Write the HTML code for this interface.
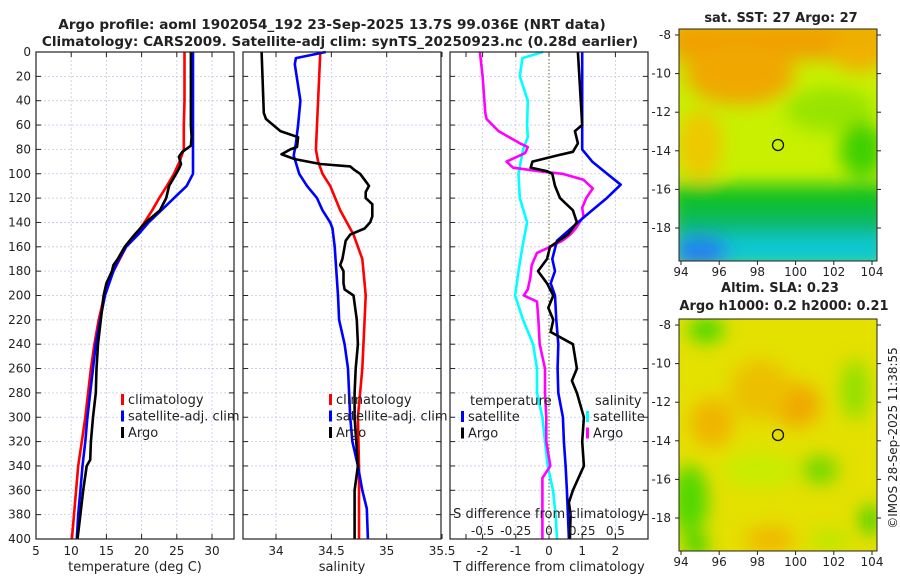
<!DOCTYPE html>
<html><head><meta charset="utf-8"><style>
body{margin:0;background:#fff;width:900px;height:580px;overflow:hidden}
svg text{font-family:"DejaVu Sans","Liberation Sans",sans-serif;fill:#222}
</style></head><body>
<svg id="fig" width="900" height="580" xmlns="http://www.w3.org/2000/svg">
<defs>
<filter id="blur8" x="-50%" y="-50%" width="200%" height="200%"><feGaussianBlur stdDeviation="9"/></filter>
<clipPath id="clip1"><rect x="679" y="29" width="198" height="232"/></clipPath>
<clipPath id="clip2"><rect x="679" y="319" width="198" height="232"/></clipPath>
</defs>
<text x="332" y="29" font-size="13.6" font-weight="bold" text-anchor="middle">Argo profile: aoml 1902054_192 23-Sep-2025 13.7S 99.036E (NRT data)</text>
<text x="340" y="46" font-size="13.6" font-weight="bold" text-anchor="middle">Climatology: CARS2009. Satellite-adj clim: synTS_20250923.nc (0.28d earlier)</text>
<g id="p1"></g>
<g id="p2"></g>
<g id="p3"></g>

<g>
<text x="781" y="22" font-size="13" font-weight="bold" text-anchor="middle">sat. SST: 27 Argo: 27</text>
<g clip-path="url(#clip1)">
<rect x="679" y="29" width="198" height="232" fill="#c8f000"/>
<g filter="url(#blur8)">
<rect x="670" y="20" width="220" height="40" fill="#f0a000"/>
<ellipse cx="740" cy="75" rx="55" ry="30" fill="#f0a800"/>
<ellipse cx="860" cy="50" rx="30" ry="22" fill="#f0b000"/>
<ellipse cx="700" cy="145" rx="22" ry="35" fill="#eec800"/>
<ellipse cx="830" cy="110" rx="45" ry="22" fill="#98e400"/>
<ellipse cx="862" cy="150" rx="22" ry="28" fill="#40d000"/>
<rect x="670" y="185" width="220" height="30" fill="#10c020"/>
<rect x="670" y="212" width="220" height="25" fill="#10b860"/>
<rect x="670" y="234" width="220" height="35" fill="#10c8d0"/>
<ellipse cx="700" cy="252" rx="28" ry="16" fill="#2080f0"/>
</g>
</g>
<rect x="679" y="29" width="198" height="232" fill="none" stroke="#222"/>
<circle cx="778" cy="145" r="5.5" fill="none" stroke="#111" stroke-width="1.3"/>
</g>

<g>
<text x="780" y="292" font-size="13" font-weight="bold" text-anchor="middle">Altim. SLA: 0.23</text>
<text x="784" y="310" font-size="13" font-weight="bold" text-anchor="middle">Argo h1000: 0.2 h2000: 0.21</text>
<g clip-path="url(#clip2)">
<rect x="679" y="319" width="198" height="232" fill="#e4e000"/>
<g filter="url(#blur8)">
<ellipse cx="706" cy="330" rx="18" ry="12" fill="#40d800"/>
<ellipse cx="797" cy="405" rx="24" ry="22" fill="#f0a800"/>
<ellipse cx="712" cy="423" rx="22" ry="24" fill="#f0b400"/>
<ellipse cx="760" cy="390" rx="30" ry="30" fill="#ecc000"/>
<ellipse cx="690" cy="500" rx="18" ry="35" fill="#50d800"/>
<ellipse cx="696" cy="545" rx="12" ry="10" fill="#20d000"/>
<ellipse cx="820" cy="470" rx="18" ry="14" fill="#70d800"/>
<ellipse cx="855" cy="390" rx="14" ry="30" fill="#90e000"/>
<ellipse cx="870" cy="520" rx="10" ry="15" fill="#40d000"/>
<ellipse cx="770" cy="540" rx="25" ry="14" fill="#f0b800"/>
<ellipse cx="760" cy="470" rx="40" ry="18" fill="#c8ec00"/>
<ellipse cx="830" cy="540" rx="20" ry="10" fill="#b8e800"/>
</g>
</g>
<rect x="679" y="319" width="198" height="232" fill="none" stroke="#222"/>
<circle cx="778" cy="435" r="5.5" fill="none" stroke="#111" stroke-width="1.3"/>
</g>
<g id="maps-axes"></g>
<text transform="translate(897,438) rotate(-90)" font-size="12" text-anchor="middle">©IMOS 28-Sep-2025 11:38:55</text>
</svg>
<script>
// ---- data (depth in m) ----
const tClimDepth=[0,20,40,60,80,90,100,110,120,130,140,150,155,160,170,180,200,220,240,260,280,300,320,340,360,380,400];
const tClimVal=[26.1,26.1,26.1,26.0,26.0,25.4,24.6,23.6,22.5,21.5,20.4,19.2,18.4,17.8,16.9,16.0,14.7,13.9,13.3,12.8,12.4,12.0,11.5,11.0,10.7,10.4,10.1];
const tSatDepth=[0,20,40,60,80,100,110,120,130,140,150,160,170,180,200,220,240,260,280,300,320,340,360,380,400];
const tSatVal=[27.3,27.3,27.3,27.3,27.3,27.3,26.4,24.6,22.8,21.0,19.5,17.8,16.8,16.0,14.8,14.1,13.5,13.1,12.7,12.3,12.0,11.6,11.3,11.0,10.8];
const tArgoDepth=[0,20,40,60,70,77,82,86,92,96,100,110,120,130,140,150,160,170,175,180,190,200,220,240,260,280,300,320,335,340,360,380,400];
const tArgoVal=[27.0,27.0,27.0,27.0,27.1,27.0,25.8,25.3,25.6,25.3,24.9,23.9,23.5,22.6,20.6,19.0,17.6,16.6,16.0,15.8,15.0,14.6,14.2,13.8,13.6,13.5,13.1,12.8,12.7,12.2,11.7,11.3,10.9];

const sClimDepth=[0,60,80,90,100,110,130,150,170,190,200,220,260,280,300,340,400];
const sClimVal=[34.40,34.37,34.36,34.38,34.42,34.49,34.58,34.70,34.78,34.80,34.81,34.80,34.78,34.76,34.74,34.75,34.75];
const sSatDepth=[0,5,10,40,60,75,85,100,110,120,130,140,145,160,200,220,240,260,280,300,320,340,360,375,400];
const sSatVal=[34.45,34.18,34.17,34.22,34.20,34.18,34.16,34.21,34.28,34.37,34.42,34.49,34.51,34.53,34.56,34.57,34.62,34.65,34.66,34.67,34.69,34.74,34.78,34.82,34.83];
const sArgoDepth=[0,50,55,65,70,78,80,84,88,92,94,97,100,105,110,115,120,125,135,140,145,150,155,160,170,175,180,190,195,200,220,240,260,280,300,340,360,380,400];
const sArgoVal=[33.87,33.89,33.91,34.04,34.20,34.19,34.13,34.05,34.17,34.40,34.67,34.71,34.76,34.80,34.84,34.81,34.81,34.87,34.87,34.85,34.80,34.67,34.63,34.62,34.60,34.58,34.61,34.61,34.62,34.70,34.73,34.74,34.72,34.71,34.71,34.74,34.71,34.71,34.71];

const dTSatDepth=[0,80,90,100,109,120,130,140,155,170,180,190,200,220,240,260,280,300,320,340,360,380,400];
const dTSatVal=[1.0,1.0,1.3,1.75,2.16,1.74,1.3,0.87,0.24,0.1,0.18,0.05,0.18,0.22,0.28,0.26,0.28,0.42,0.45,0.5,0.54,0.57,0.6];
const dTArgoDepth=[0,60,65,75,82,85,90,95,98,100,110,120,130,140,150,160,170,180,190,200,210,220,230,240,260,270,280,300,320,340,360,370,380,400];
const dTArgoVal=[0.87,1.0,0.78,0.87,0.72,0.24,-0.5,-0.55,-0.05,0.1,0.18,0.33,0.72,0.84,0.57,0.03,-0.06,-0.33,-0.06,0.13,-0.02,0.13,0.05,0.72,0.84,0.69,0.84,1.05,1.0,1.05,0.72,0.6,0.65,0.63];
const dSSatDepth=[0,5,20,40,60,70,80,100,120,140,160,180,200,220,240,260,280,300,320,340,360,380,400];
const dSSatVal=[-0.045,-0.2,-0.22,-0.16,-0.165,-0.16,-0.195,-0.23,-0.22,-0.165,-0.2,-0.23,-0.255,-0.195,-0.12,-0.09,-0.09,-0.05,-0.03,-0.01,0.03,0.05,0.06];
const dSArgoDepth=[0,20,50,55,65,75,78,83,90,95,98,100,105,112,120,128,135,145,150,155,160,165,175,185,195,200,205,220,240,260,280,300,320,340,350,370,400];
const dSArgoVal=[-0.52,-0.5,-0.48,-0.47,-0.38,-0.22,-0.16,-0.18,-0.32,-0.27,-0.07,0.1,0.26,0.33,0.28,0.25,0.26,0.2,0.16,0.1,0.01,-0.09,-0.13,-0.14,-0.16,-0.19,-0.09,-0.08,-0.07,-0.03,-0.03,-0.02,-0.02,0.01,-0.05,-0.05,-0.05];

const depthTicks=[0,20,40,60,80,100,120,140,160,180,200,220,240,260,280,300,320,340,360,380,400];
const tempTicks=[5,10,15,20,25,30];
const salTicks=[34,34.5,35,35.5];
const dTTicks=[-2,-1,0,1,2];
const dSTicks=["-0.5","-0.25","0","0.25","0.5"];
const lonTicks=[94,96,98,100,102,104];
const latTicks=[-8,-10,-12,-14,-16,-18];

// ---- axes ----
const NS="http://www.w3.org/2000/svg";
const Y0=52,Y1=539;
const yD=d=>Y0+(d/400)*(Y1-Y0);
const xT=t=>36+(t-5)*7.04;
const xS=s=>276+(s-34)*110.7;
const xDT=v=>549+v*33.2;
const xDS=v=>549+v*4*33.2;
function el(p,tag,a){const e=document.createElementNS(NS,tag);for(const k in a)e.setAttribute(k,a[k]);p.appendChild(e);return e;}
function txt(p,x,y,s,anchor,size){const e=el(p,'text',{x:x,y:y,'font-size':size||12,'text-anchor':anchor||'middle'});e.textContent=s;return e;}

function panel(g,x0,x1,vgrid,ticksX,labelsX,xlabel){
  el(g,'rect',{x:x0,y:Y0,width:x1-x0,height:Y1-Y0,fill:'#fff'});
  depthTicks.forEach(d=>{
    const y=yD(d);
    if(d>0&&d<400){const gl=el(g,'line',{x1:x0,x2:x1,y1:y,y2:y,stroke:'#c4c8e8','stroke-width':0.8,'stroke-dasharray':'2,2'});
    
    }
    el(g,'line',{x1:x0,x2:x0+5,y1:y,y2:y,stroke:'#222'});
    el(g,'line',{x1:x1-5,x2:x1,y1:y,y2:y,stroke:'#222'});
  });
  vgrid.forEach(x=>{const gl=el(g,'line',{x1:x,x2:x,y1:Y0,y2:Y1,stroke:'#c4c8e8','stroke-width':0.8,'stroke-dasharray':'2,2'});
    
    });
  ticksX.forEach((x,i)=>{
    el(g,'line',{x1:x,x2:x,y1:Y1,y2:Y1-5,stroke:'#222'});
    el(g,'line',{x1:x,x2:x,y1:Y0,y2:Y0+5,stroke:'#222'});
    const t=txt(g,x,Y1+16,labelsX[i]);
    
    
  });
  const xl=txt(g,(x0+x1)/2,Y1+32,xlabel,'middle',13);
  
  
}
function series(g,depths,vals,fx,color,name){
  const pts=depths.map((d,i)=>fx(vals[i]).toFixed(1)+','+yD(d).toFixed(1)).join(' ');
  const p=el(g,'polyline',{points:pts,fill:'none',stroke:color,'stroke-width':2.6,'stroke-linejoin':'round'});
  
  
}
function frame(g,x0,x1){el(g,'rect',{x:x0,y:Y0,width:x1-x0,height:Y1-Y0,fill:'none',stroke:'#222','stroke-width':1.2});}
function legend(g,x,y,items){
  items.forEach((it,i)=>{
    const yy=y+i*16.5;
    el(g,'rect',{x:x,y:yy-7,width:3,height:11,fill:it[1]});
    const t=txt(g,x+7,yy+3,it[0],'start',13);
    
    
  });
}

// Panel 1
const p1=document.getElementById('p1');
panel(p1,36,234,tempTicks.slice(1).map(xT),tempTicks.map(xT),tempTicks.map(String),'temperature (deg C)');
depthTicks.forEach(d=>{const t=txt(p1,31,yD(d)+4,String(d),'end',12);
  
  });
series(p1,tClimDepth,tClimVal,xT,'#ff0000','temp-climatology-line');
series(p1,tSatDepth,tSatVal,xT,'#0000ff','temp-satellite-line');
series(p1,tArgoDepth,tArgoVal,xT,'#000000','temp-argo-line');
frame(p1,36,234);
legend(p1,121,401,[['climatology','#f00'],['satellite-adj. clim','#00f'],['Argo','#000']]);

// Panel 2
const p2=document.getElementById('p2');
panel(p2,243,441,[34,34.5,35].map(xS),salTicks.map(xS),salTicks.map(String),'salinity');
series(p2,sClimDepth,sClimVal,xS,'#ff0000','sal-climatology-line');
series(p2,sSatDepth,sSatVal,xS,'#0000ff','sal-satellite-line');
series(p2,sArgoDepth,sArgoVal,xS,'#000000','sal-argo-line');
frame(p2,243,441);
legend(p2,329,401,[['climatology','#f00'],['satellite-adj. clim','#00f'],['Argo','#000']]);

// Panel 3
const p3=document.getElementById('p3');
panel(p3,450,648,[-2,-1,1,2].map(xDT),[-2.5,-2,-1,0,1,2].map(xDT),['','-2','-1','0','1','2'],'T difference from climatology');
el(p3,'line',{x1:xDT(0),x2:xDT(0),y1:Y0,y2:Y1,stroke:'#556633','stroke-width':1,'stroke-dasharray':'1.5,2'});
series(p3,dSSatDepth,dSSatVal,xDS,'#00ffff','sdiff-satellite-line');
series(p3,dSArgoDepth,dSArgoVal,xDS,'#ff00ff','sdiff-argo-line');
series(p3,dTSatDepth,dTSatVal,xDT,'#0000ff','tdiff-satellite-line');
series(p3,dTArgoDepth,dTArgoVal,xDT,'#000000','tdiff-argo-line');
frame(p3,450,648);
txt(p3,470,405,'temperature','start',13);
legend(p3,461,418,[['satellite','#00f'],['Argo','#000']]);
txt(p3,595,405,'salinity','start',13);
legend(p3,586,418,[['satellite','#00ffff'],['Argo','#f0f']]);
txt(p3,549,518,'S difference from climatology','middle',13);
dSTicks.forEach((s,i)=>{const t=txt(p3,xDS(Number(s)),535,s,'middle',12);
  
  });

// Map axes
const ma=document.getElementById('maps-axes');
const lonX=l=>681+(l-94)*19.1;
[[29,261,35],[319,551,325]].forEach(m=>{
  const [top,bot,lat8]=m;
  lonTicks.forEach(l=>{
    el(ma,'line',{x1:lonX(l),x2:lonX(l),y1:bot,y2:bot+4,stroke:'#222'});
    const t=txt(ma,lonX(l),bot+15,String(l),'middle',12);
    
    
  });
  latTicks.forEach(l=>{
    const y=lat8+(-8-l)*19.3;
    el(ma,'line',{x1:675,x2:679,y1:y,y2:y,stroke:'#222'});
    el(ma,'line',{x1:877,x2:881,y1:y,y2:y,stroke:'#222'});
    const t=txt(ma,671,y+4,String(l),'end',12);
    
    
  });
});
</script>
</body></html>
